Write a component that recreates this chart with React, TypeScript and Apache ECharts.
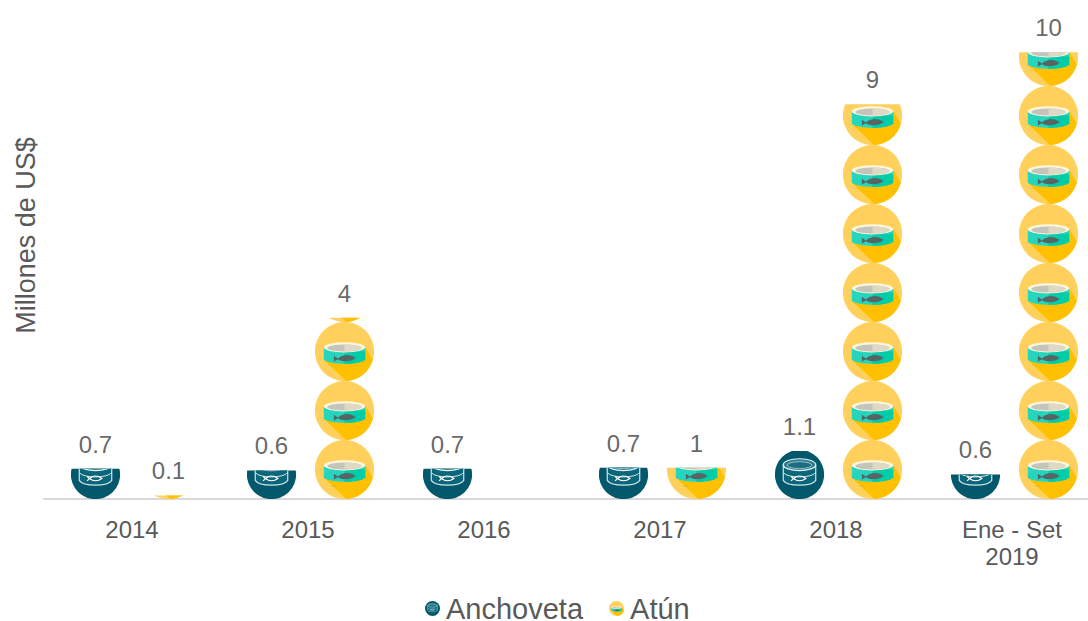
import React, { useEffect, useRef } from "react";
import * as echarts from "echarts";

const categories = ["2014", "2015", "2016", "2017", "2018", "Ene - Set\n2019"];
const anchovetaValues = [0.68, 0.64, 0.68, 0.7, 1.08, 0.55];
const anchovetaLabels = ["0.7", "0.6", "0.7", "0.7", "1.1", "0.6"];
const atunValues = [0.08, 4.07, null, 0.7, 8.86, 10.03];
const atunLabels = ["0.1", "4", "", "1", "9", "10"];

const svgUri = (body: string) =>
  "image://data:image/svg+xml;charset=utf-8," +
  encodeURIComponent(`<svg xmlns="http://www.w3.org/2000/svg" viewBox="0 0 100 100" width="200" height="200">${body}</svg>`);

const tuna = svgUri(`
<circle cx="50" cy="50" r="50" fill="#FFD05B"/>
<path d="M15 64 L85 42 L98 64 A50 50 0 0 1 53 100 Z" fill="#FFC000"/>
<path d="M15 43 V64 C25 73 75 73 85 64 V43 Z" fill="#25D5BE"/>
<path d="M50 50 H85 V64 C78 69 65 71 50 71 Z" fill="#00CCA9"/>
<ellipse cx="50" cy="43" rx="35" ry="8.5" fill="#FFF6DC"/>
<ellipse cx="50" cy="44" rx="29" ry="6" fill="#C4C4BC"/>
<path d="M50 38 A29 6 0 0 1 50 50 Z" fill="#DED8C4"/>
<path d="M39 62 C46 54 60 54 69 61 C60 68 46 68 39 63 L32 67 V57 Z" fill="#566666"/>`);

const anchovy = svgUri(`
<circle cx="50" cy="50" r="50" fill="#03586B"/>
<path d="M17 30 V62 C25 75 75 75 83 62 V30" fill="#0A6678" stroke="#CFE3E6" stroke-width="2.5"/>
<ellipse cx="50" cy="30" rx="33" ry="12" fill="#2E7C8C" stroke="#E5F0F1" stroke-width="2.5"/>
<ellipse cx="50" cy="31" rx="25" ry="7" fill="#1A6E80" stroke="#BFD8DC" stroke-width="1.5"/>
<path d="M17 46 C25 58 75 58 83 46" fill="none" stroke="#DCEAEC" stroke-width="2"/>
<path d="M38 58 C45 52 55 52 63 58 C55 64 45 64 38 58 Z M38 58 L33 54 M38 58 L33 63" fill="none" stroke="#FFFFFF" stroke-width="2.5"/>`);

const textColor = "#595959";
const labelColor = "#404040";
const plotHeight = 499;
const axisMax = 11.2;
const pxPerUnit = plotHeight / axisMax;
const barOffset = 36.5;

const labelSeries = (values: (number | null)[], labels: string[], dx: number) => ({
  type: "scatter",
  silent: true,
  symbolSize: 1,
  itemStyle: { color: "transparent" },
  data: values.map((v, i) => [i, v]),
  label: {
    show: true,
    position: "top",
    distance: 12,
    offset: [dx, 0],
    fontSize: 24,
    color: labelColor,
    formatter: (p: any) => labels[p.dataIndex],
  },
});

export default function App() {
  const ref = useRef<HTMLDivElement>(null);
  useEffect(() => {
    document.body.style.margin = "0";
    const chart = echarts.init(ref.current!, undefined, { renderer: "svg" });
    chart.setOption({
      animation: false,
      textStyle: { fontFamily: "Liberation Sans" },
      grid: { left: 44, top: 0, width: 1056, height: plotHeight, outerBoundsMode: "none" },
      legend: {
        top: 589,
        left: 420,
        itemGap: 26,
        itemWidth: 15,
        itemHeight: 15,
        textStyle: { fontSize: 29, lineHeight: 26, color: textColor, padding: [0, 0, 0, 1] },
        data: [
          { name: "Anchoveta", icon: anchovy },
          { name: "Atún", icon: tuna },
        ],
      },
      xAxis: {
        type: "category",
        data: categories,
        axisLine: { lineStyle: { color: "#D9D9D9", width: 2 } },
        axisTick: { show: false },
        axisLabel: { color: textColor, fontSize: 24, margin: 17, lineHeight: 27 },
      },
      yAxis: {
        type: "value",
        min: 0,
        max: axisMax,
        name: "Millones de US$",
        nameLocation: "middle",
        nameGap: 5,
        nameTextStyle: { color: textColor, fontSize: 27, padding: [0, 0, 0, 28] },
        axisLine: { show: false },
        axisTick: { show: false },
        axisLabel: { show: false },
        splitLine: { show: false },
      },
      series: [
        {
          name: "Anchoveta",
          type: "pictorialBar",
          data: anchovetaValues,
          symbol: anchovy,
          symbolSize: [49, 49],
          symbolRepeat: "fixed",
          symbolMargin: 0,
          symbolClip: true,
          symbolBoundingData: (2 * 49) / pxPerUnit,
          barWidth: 60,
          barGap: "21.67%",
        },
        {
          name: "Atún",
          type: "pictorialBar",
          data: atunValues,
          symbol: tuna,
          symbolSize: [59, 59],
          symbolRepeat: "fixed",
          symbolMargin: 0,
          symbolClip: true,
          symbolBoundingData: (9 * 59) / pxPerUnit,
          barWidth: 60,
          barGap: "21.67%",
        },
        labelSeries(anchovetaValues, anchovetaLabels, -barOffset),
        labelSeries(atunValues, atunLabels, barOffset),
      ],
    });
    return () => chart.dispose();
  }, []);
  return <div ref={ref} style={{ width: 1088, height: 621 }} />;
}
